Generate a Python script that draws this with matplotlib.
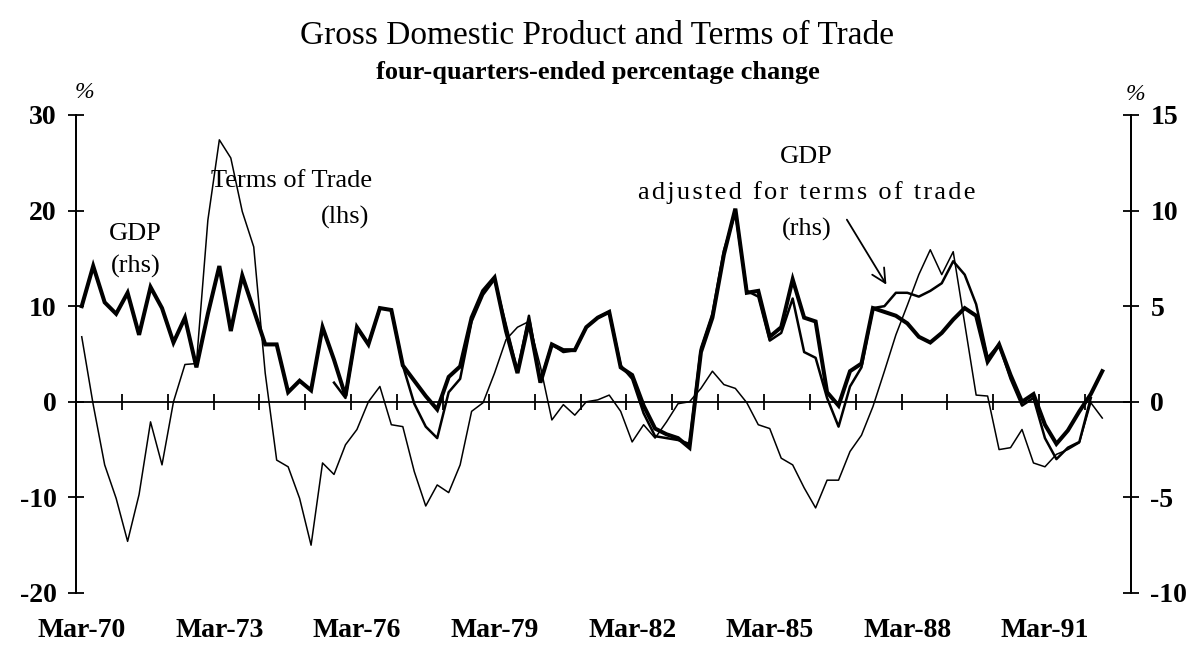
import numpy as np
import matplotlib
matplotlib.use("Agg")
import matplotlib.pyplot as plt

plt.rcParams['font.family'] = ['Liberation Serif', 'DejaVu Serif']
plt.rcParams['axes.unicode_minus'] = False

# quarterly, Mar-70 .. Jun-92, four-quarters-ended % change
tot = [6.8, -0.3, -6.6, -10.1, -14.6, -9.7, -2.1, -6.6, 0.0, 3.9,
       4.0, 19.0, 27.4, 25.5, 19.9, 16.2, 3.0, -6.1, -6.8, -10.1,
       -15.0, -6.4, -7.6, -4.5, -2.9, 0.0, 1.6, -2.4, -2.6, -7.3,
       -10.9, -8.7, -9.5, -6.6, -1.0, -0.1, 3.0, 6.5, 7.8, 8.4,
       3.7, -1.9, -0.3, -1.4, 0.0, 0.2, 0.7, -1.0, -4.2, -2.4,
       -3.8, -2.1, -0.2, 0.0, 1.4, 3.2, 1.8, 1.4, -0.1, -2.4,
       -2.8, -5.9, -6.6, -9.0, -11.1, -8.2, -8.2, -5.2, -3.5, -0.5,
       3.2, 7.0, 10.1, 13.3, 15.9, 13.3, 15.7, 8.2, 0.7, 0.6,
       -5.0, -4.8, -2.9, -6.4, -6.8, -5.5, -5.0, -4.3, -0.1, -1.7]

gdp = [5.0, 7.1, 5.2, 4.6, 5.7, 3.5, 6.0, 4.9, 3.1, 4.4,
       1.8, 4.6, 7.1, 3.7, 6.6, 4.8, 3.0, 3.0, 0.5, 1.1,
       0.6, 3.9, 2.2, 0.3, 3.9, 3.0, 4.9, 4.8, 1.9, 1.1,
       0.3, -0.4, 1.3, 1.85, 4.4, 5.8, 6.5, 3.7, 1.5, 4.2,
       1.0, 3.0, 2.7, 2.7, 3.9, 4.4, 4.7, 1.8, 1.4, -0.2,
       -1.4, -1.7, -1.9, -2.4, 2.6, 4.4, 7.7, 10.1, 5.7, 5.8,
       3.4, 3.9, 6.4, 4.4, 4.2, 0.5, -0.2, 1.6, 2.0, 4.9,
       4.7, 4.5, 4.1, 3.4, 3.1, 3.6, 4.3, 4.9, 4.5, 2.1,
       3.0, 1.4, 0.0, 0.4, -1.2, -2.2, -1.5, -0.5, 0.4, 1.6]

nan = np.nan
gdp_adj = [nan] * 22 + [
       1.0, 0.2, 3.9, 3.0, 4.9, 4.8, 1.9, -0.1,
       -1.3, -1.9, 0.5, 1.2, 4.2, 5.6, 6.4, 4.0, 1.6, 4.5,
       1.1, 3.0, 2.6, 2.7, 3.9, 4.4, 4.7, 1.9, 1.2, -0.6,
       -1.8, -1.9, -2.0, -2.2, 2.8, 4.6, 7.9, 9.9, 5.8, 5.5,
       3.2, 3.6, 5.4, 2.6, 2.3, 0.2, -1.3, 0.8, 1.8, 4.9,
       5.0, 5.7, 5.7, 5.5, 5.8, 6.2, 7.35, 6.65, 5.1, 2.3,
       3.0, 1.2, -0.2, 0.2, -1.9, -3.0, -2.4, -2.1, 0.2, nan]

xlabels = ['Mar-70', 'Mar-73', 'Mar-76', 'Mar-79', 'Mar-82', 'Mar-85', 'Mar-88', 'Mar-91']

x = np.arange(len(tot))

fig = plt.figure(figsize=(11.95, 6.54), dpi=100)
ax = fig.add_axes([0.0636, 0.0933, 0.8828, 0.7309])
ax2 = ax.twinx()

ax.plot(x, tot, color='k', lw=1.1)
ax2.plot(x, gdp, color='k', lw=2.9, solid_joinstyle='miter')
ax2.plot(x, gdp_adj, color='k', lw=1.8)

ax.set_xlim(-0.5, 91.5)
ax.set_ylim(-20, 30)
ax2.set_ylim(-10, 15)

# zero line with yearly tick marks
ax.axhline(0, color='k', lw=1.3)
ax.vlines(np.arange(-0.5, 91.5, 4), -0.85, 0.85, color='k', lw=1.3)

for a in (ax, ax2):
    for s in ('top', 'bottom'):
        a.spines[s].set_visible(False)
    for s in ('left', 'right'):
        a.spines[s].set_linewidth(1.3)

ax.set_yticks([-20, -10, 0, 10, 20, 30])
ax2.set_yticks([-10, -5, 0, 5, 10, 15])
ax.tick_params(axis='y', direction='inout', length=12, width=1.3, pad=8,
               labelsize=20)
ax2.tick_params(axis='y', direction='inout', length=12, width=1.3, pad=8,
                labelsize=20)
for lab in ax.get_yticklabels() + ax2.get_yticklabels():
    lab.set_fontweight('bold')

ax.set_xticks(np.arange(0, 85, 12))
ax.set_xticklabels(xlabels, fontsize=20, fontweight='bold')
ax.tick_params(axis='x', length=0, pad=18)

fig.text(0.5, 1 - 36 / 654, 'Gross Domestic Product and Terms of Trade',
         ha='center', va='center', fontsize=24)
fig.text(0.5, 1 - 72 / 654, 'four-quarters-ended percentage change',
         ha='center', va='center', fontsize=19, fontweight='bold')
fig.text(84 / 1195, 1 - 92 / 654, '%', ha='center', va='center',
         fontsize=17, style='italic')
fig.text(1135 / 1195, 1 - 95 / 654, '%', ha='center', va='center',
         fontsize=17, style='italic')

tk = dict(ha='center', va='center', fontsize=19)
ax.text(4.7, 17.5, 'GDP', **tk)
ax.text(4.7, 14.2, '(rhs)', **tk)
ax.text(18.3, 23.1, 'Terms of Trade', **tk)
ax.text(23.0, 19.3, '(lhs)', **tk)
ax.text(63.2, 25.6, 'GDP', **tk)
ax.text(63.2, 21.9, '\u200a'.join('adjusted for terms of trade'), **tk)
ax.text(63.2, 18.0, '(rhs)', **tk)
ax.annotate('', xy=(70.3, 12.0), xytext=(66.6, 19.3),
            arrowprops=dict(arrowstyle='->', color='k', lw=1.3,
                            mutation_scale=25))

fig.savefig('out.png', dpi=100)
